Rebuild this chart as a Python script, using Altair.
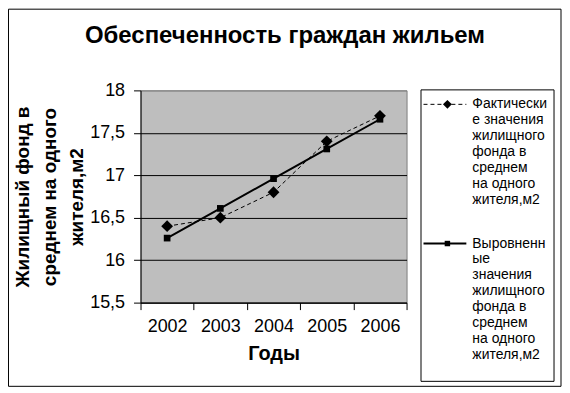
import altair as alt
import pandas as pd

years = ["2002", "2003", "2004", "2005", "2006"]
actual = [16.4, 16.5, 16.8, 17.4, 17.7]
fitted = [16.26, 16.61, 16.96, 17.31, 17.66]
y_ticks = [15.5, 16, 16.5, 17, 17.5, 18]

title_text = "Обеспеченность граждан жильем"
x_title = "Годы"
y_title = ["Жилищный фонд в", "среднем на одного", "жителя,м2"]
legend_actual = ["Фактически", "е значения", "жилищного", "фонда в", "среднем", "на одного", "жителя,м2"]
legend_fitted = ["Выровненн", "ые", "значения", "жилищного", "фонда в", "среднем", "на одного", "жителя,м2"]

FONT = "Liberation Sans"

rows = []
for y, a, f in zip(years, actual, fitted):
    rows.append({"year": y, "series": "actual", "value": a})
    rows.append({"year": y, "series": "fitted", "value": f})
df = pd.DataFrame(rows)

x_enc = alt.X(
    "year:O",
    scale=alt.Scale(type="band", paddingInner=0, paddingOuter=0),
    bandPosition=0.5,
    axis=alt.Axis(
        title=x_title, titleFont=FONT, titleFontSize=20, titleFontWeight="bold",
        titleColor="black", titlePadding=8,
        labelFont=FONT, labelFontSize=18, labelColor="black", labelAngle=0,
        labelPadding=8, tickBand="extent", tickSize=7, tickColor="black",
        domainColor="black", grid=False,
    ),
)
y_enc = alt.Y(
    "value:Q",
    scale=alt.Scale(domain=[15.5, 18], nice=False, zero=False),
    axis=alt.Axis(
        values=y_ticks, title=y_title, titleFont=FONT, titleFontSize=19,
        titleFontWeight="bold", titleColor="black", titleLineHeight=27,
        titlePadding=3,
        labelFont=FONT, labelFontSize=18, labelColor="black", labelPadding=9,
        labelExpr="replace(toString(datum.value), '.', ',')",
        tickSize=7, tickColor="black", domainColor="black",
        grid=True,
        gridColor={"condition": {"test": "datum.value == 18", "value": "#808080"}, "value": "black"},
        gridOpacity=1,
    ),
)

base = alt.Chart(df).encode(x=x_enc, y=y_enc)

line_a = base.transform_filter("datum.series == 'actual'").mark_line(
    color="black", strokeWidth=1, strokeDash=[4, 3])
pts_a = base.transform_filter("datum.series == 'actual'").mark_point(
    shape="diamond", filled=True, color="black", size=140, opacity=1)
line_f = base.transform_filter("datum.series == 'fitted'").mark_line(
    color="black", strokeWidth=2)
pts_f = base.transform_filter("datum.series == 'fitted'").mark_point(
    shape="square", filled=True, color="black", size=45, opacity=1)

one = pd.DataFrame({"k": [0]})

outer = alt.Chart(one).mark_rect(fillOpacity=0, stroke="black", strokeWidth=1).encode(
    x=alt.value(-132.5), x2=alt.value(422), y=alt.value(-81.5), y2=alt.value(297))
leg_box = alt.Chart(one).mark_rect(fill="white", stroke="black", strokeWidth=1).encode(
    x=alt.value(281.5), x2=alt.value(415), y=alt.value(-0.5), y2=alt.value(292))

title_mark = alt.Chart(one).mark_text(
    text=title_text, font=FONT, fontSize=24, fontWeight="bold", color="black",
    align="center", baseline="middle").encode(x=alt.value(145), y=alt.value(-55))

leg_line_a = alt.Chart(one).mark_rule(color="black", strokeWidth=1, strokeDash=[4, 3]).encode(
    x=alt.value(284), x2=alt.value(327), y=alt.value(14))
leg_pt_a = alt.Chart(one).mark_point(shape="diamond", filled=True, color="black", size=80, opacity=1).encode(
    x=alt.value(308), y=alt.value(14))
leg_line_f = alt.Chart(one).mark_rule(color="black", strokeWidth=2).encode(
    x=alt.value(284), x2=alt.value(327), y=alt.value(153.7))
leg_pt_f = alt.Chart(one).mark_point(shape="square", filled=True, color="black", size=30, opacity=1).encode(
    x=alt.value(308), y=alt.value(153.7))

leg_txt_a = alt.Chart(one).mark_text(
    text=legend_actual, font=FONT, fontSize=14, lineHeight=16, align="left",
    baseline="top", color="black").encode(x=alt.value(333), y=alt.value(7))
leg_txt_f = alt.Chart(one).mark_text(
    text=legend_fitted, font=FONT, fontSize=14, lineHeight=16, align="left",
    baseline="top", color="black").encode(x=alt.value(333), y=alt.value(146.7))

chart = alt.layer(
    outer, title_mark, line_f, line_a, pts_f, pts_a,
    leg_box, leg_line_a, leg_pt_a, leg_line_f, leg_pt_f, leg_txt_a, leg_txt_f,
).properties(
    width=267, height=213,
    background="white",
    padding={"left": 133, "top": 82, "right": 156, "bottom": 85},
    autosize=alt.AutoSizeParams(type="none"),
).configure_view(
    fill="#bebebe", stroke="#808080", strokeWidth=1,
)

chart.save("out.html", embed_options={"renderer": "svg", "actions": False})
